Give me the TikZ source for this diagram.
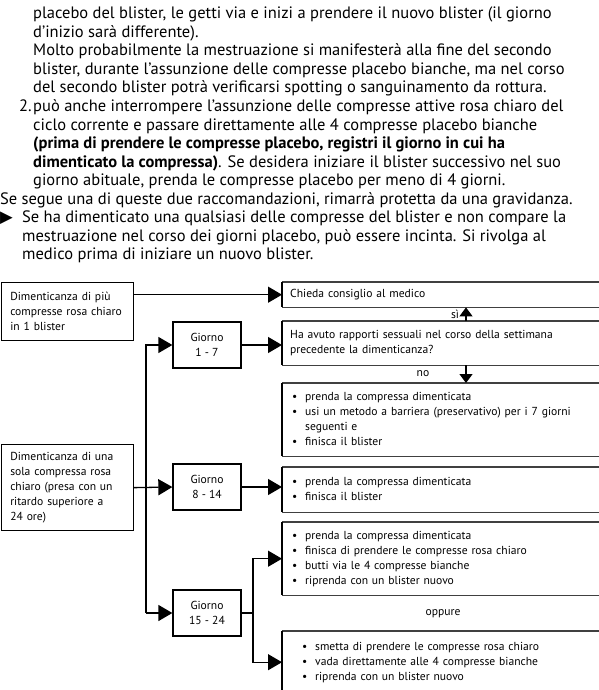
\documentclass[tikz,border=0pt]{standalone}
\usepackage{fontspec}
\setmainfont{PT Sans}
\newfontfamily\symfont{DejaVu Sans}
\usetikzlibrary{arrows.meta,positioning,calc}

\newcommand{\bodyfont}{\fontsize{16.5}{18.5}\selectfont}
\newcommand{\chartfont}{\fontsize{11.6}{15}\selectfont}
\newenvironment{todolist}[1]{\begin{tabular}{@{\hspace{#1}}p{13pt}@{}l@{}}}{\end{tabular}}

\begin{document}
\begin{tikzpicture}[x=1pt,y=-1pt,
    txt/.style={anchor=base west,inner sep=0pt,align=left,font=\bodyfont},
    leftbox/.style={draw,line width=1.3pt,anchor=north west,text width=114pt,inner xsep=9pt,align=left,font=\chartfont},
    daybox/.style={draw,line width=1.3pt,minimum width=68pt,minimum height=46pt,align=center,font=\chartfont,inner sep=0pt},
    rowbox/.style={anchor=north west,inner xsep=8pt,inner ysep=0pt,text width=310pt,align=left,font=\chartfont},
    hrule/.style={line width=1.8pt,black!75},
    vrule/.style={line width=1.2pt},
    conn/.style={line width=1.3pt,-{Triangle[length=14pt,width=16pt]}},
    tick/.style={line width=1.3pt,-{Triangle[length=9pt,width=13pt]}}]
  \useasboundingbox (0,0) rectangle (599,690);
  \clip (0,0) rectangle (599,690);

  %%%%% TEXT ABOVE %%%%%
  % multi-line nodes sit on the baseline of their last line
  \node[txt] (para1) at (33,93) {placebo del blister, le getti via e inizi a prendere il nuovo blister (il giorno\\
    d’inizio sarà differente).\\
    Molto probabilmente la mestruazione si manifesterà alla fine del secondo\\
    blister, durante l’assunzione delle compresse placebo bianche, ma nel corso\\
    del secondo blister potrà verificarsi spotting o sanguinamento da rottura.};
  \node[txt] (num2) at (19,111.5) {2.};
  \node[txt] (para2) at (33,185.5) {può anche interrompere l’assunzione delle compresse attive rosa chiaro del\\
    ciclo corrente e passare direttamente alle 4 compresse placebo bianche\\
    \textbf{(prima di prendere le compresse placebo, registri il giorno in cui ha}\\
    \textbf{dimenticato la compressa)}. Se desidera iniziare il blister successivo nel suo\\
    giorno abituale, prenda le compresse placebo per meno di 4 giorni.};
  \node[txt] (para3) at (0,204) {Se segue una di queste due raccomandazioni, rimarrà protetta da una gravidanza.};
  \node[txt] (mark) at (0,222.5) {\symfont ▶};
  \node[txt] (para4) at (22,259.5) {Se ha dimenticato una qualsiasi delle compresse del blister e non compare la\\
    mestruazione nel corso dei giorni placebo, può essere incinta. Si rivolga al\\
    medico prima di iniziare un nuovo blister.};

  %%%%% LEFT COLUMN %%%%%
  \node[leftbox,minimum height=58pt] (morepills) at (0.6,282) {Dimenticanza di più\\compresse rosa chiaro\\in 1 blister};
  \node[leftbox,minimum height=86pt] (onepill) at (0.6,444) {Dimenticanza di una\\sola compressa rosa\\chiaro (presa con un\\ritardo superiore a\\24 ore)};

  \node[daybox] (days1) at (207,345) {Giorno\\1 - 7};
  \node[daybox] (days2) at (207,487) {Giorno\\8 - 14};
  \node[daybox] (days3) at (207,613) {Giorno\\15 - 24};

  %%%%% RIGHT COLUMN %%%%%
  \node[rowbox,minimum height=25pt] (advice) at (282,282) {Chieda consiglio al medico};
  \node[rowbox,minimum height=44pt] (intercourse) at (282,321) {Ha avuto rapporti sessuali nel corso della settimana\\precedente la dimenticanza?};
  \node[rowbox,minimum height=73pt] (todo1) at (282,383) {\begin{todolist}{2pt}
      \textbullet & prenda la compressa dimenticata\\
      \textbullet & usi un metodo a barriera (preservativo) per i 7 giorni\\
      & seguenti e\\
      \textbullet & finisca il blister
    \end{todolist}};
  \node[rowbox,minimum height=45pt] (todo2) at (282,467) {\begin{todolist}{2pt}
      \textbullet & prenda la compressa dimenticata\\
      \textbullet & finisca il blister
    \end{todolist}};
  \node[rowbox,minimum height=73pt] (todo3) at (282,522) {\begin{todolist}{2pt}
      \textbullet & prenda la compressa dimenticata\\
      \textbullet & finisca di prendere le compresse rosa chiaro\\
      \textbullet & butti via le 4 compresse bianche\\
      \textbullet & riprenda con un blister nuovo
    \end{todolist}};
  \node[rowbox,minimum height=62pt] (todo4) at (282,631) {\begin{todolist}{12pt}
      \textbullet & smetta di prendere le compresse rosa chiaro\\
      \textbullet & vada direttamente alle 4 compresse bianche\\
      \textbullet & riprenda con un blister nuovo
    \end{todolist}};

  \foreach \n in {advice,intercourse,todo1,todo2,todo3,todo4}{
    \draw[hrule] (\n.north west) -- (\n.north east) (\n.south west) -- (\n.south east);
    \draw[vrule] (\n.north west) -- (\n.south west);
  }

  \node[font=\chartfont] (lblyes) at (455,314) {sì};
  \node[font=\chartfont] (lblno) at (423,374) {no};
  \node[font=\chartfont] (lblor) at (443,614) {oppure};

  %%%%% CONNECTORS %%%%%
  \coordinate (fork) at (146,0);
  \coordinate (split) at (253,0);
  \coordinate (answer) at (466,0);

  \draw[conn] (morepills.east |- advice.west) -- (advice.west);
  \draw[conn] (fork |- days3.west) -- (fork |- days1.west) -- (days1.west);
  \draw[conn] (fork |- days3.west) -- (days3.west);
  \draw[conn] (onepill.east) -- (days2.west);
  \draw[conn] (days1.east) -- (days1.east -| intercourse.west);
  \draw[conn] (days2.east) -- (days2.east -| todo2.west);
  \draw[conn] (days3.east) -| (split |- todo3.west) -- (todo3.west);
  \draw[conn] (split |- days3.east) |- (todo4.west);
  \draw[tick] (answer |- intercourse.north) -- (answer |- advice.south);
  \draw[tick] (answer |- intercourse.south) -- (answer |- todo1.north);
\end{tikzpicture}
\end{document}
